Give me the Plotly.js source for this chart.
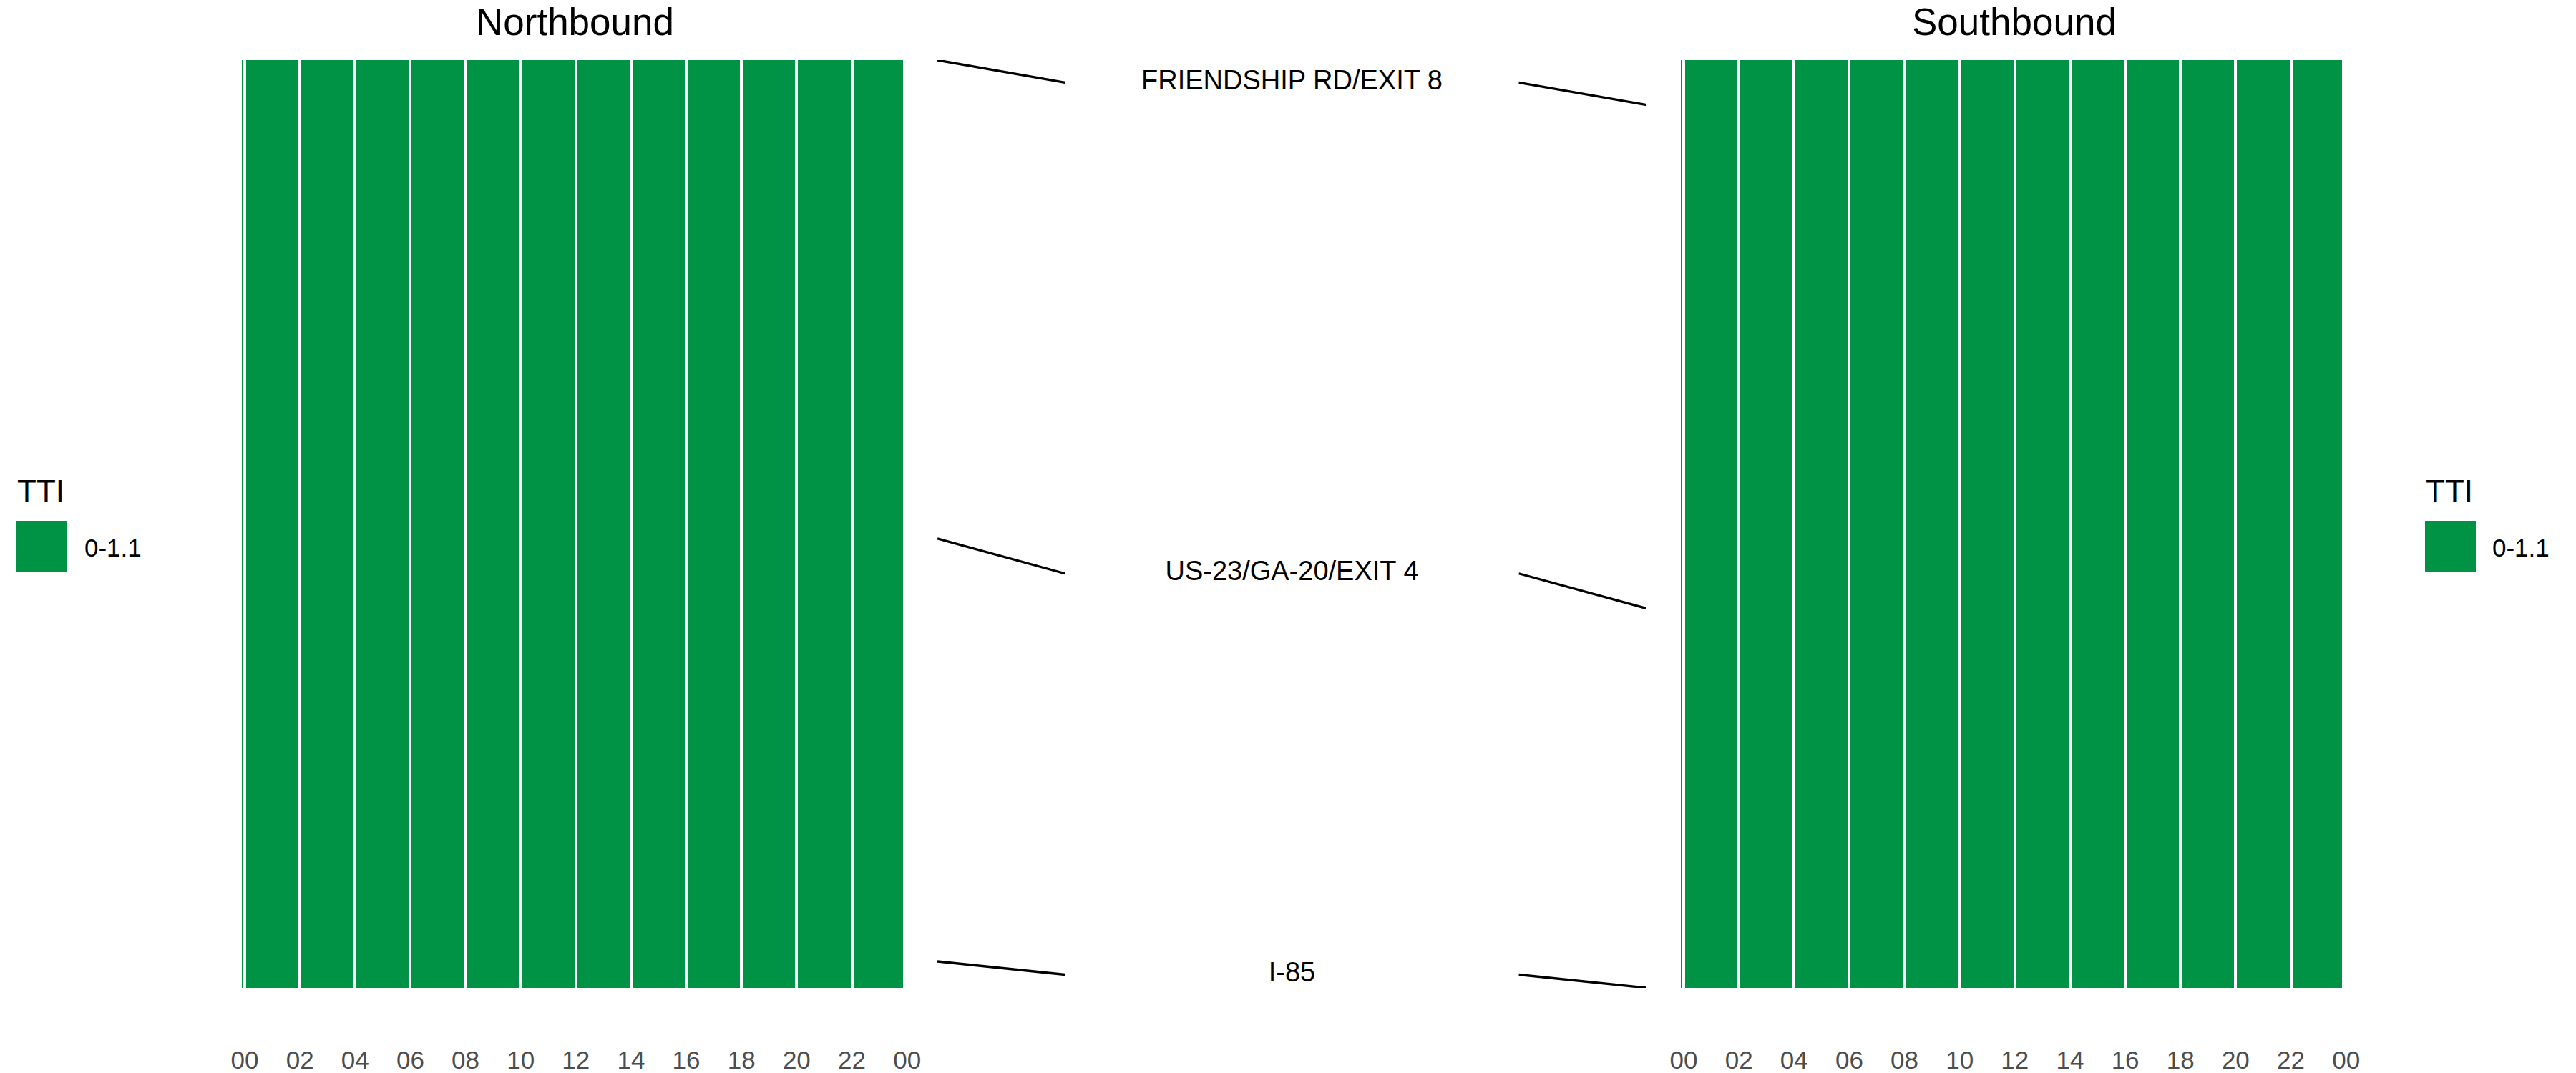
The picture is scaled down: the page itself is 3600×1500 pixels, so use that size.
<!DOCTYPE html>
<html>
<head>
<meta charset="utf-8">
<script src="https://cdn.plot.ly/plotly-3.0.1.min.js"></script>
<style>html,body{margin:0;padding:0;background:#fff;}#chart{width:3600px;height:1500px;}</style>
</head>
<body>
<div id="chart"></div>
<script>
// ---- data ----
const hourEdges = [-0.156, 0, 2, 4, 6, 8, 10, 12, 14, 16, 18, 20, 22, 23.91];
const nbTTI = [1, 1, 1, 1, 1, 1, 1, 1, 1, 1, 1, 1, 1];
const sbTTI = [1, 1, 1, 1, 1, 1, 1, 1, 1, 1, 1, 1, 1];
const segmentRange = [0, 8.9];           // distance along the corridor
const roads = ["I-85", "US-23/GA-20/EXIT 4", "FRIENDSHIP RD/EXIT 8"];
const nbPos = [0.254, 4.31, 8.9];
const sbPos = [0.0, 3.64, 8.47];
const tickVals = [0, 2, 4, 6, 8, 10, 12, 14, 16, 18, 20, 22, 24];
const tickText = ["00", "02", "04", "06", "08", "10", "12", "14", "16", "18", "20", "22", "00"];
const ttiLabels = ["0-1.1"];
const ttiColors = ["#009245"];
const panelTitles = ["Northbound", "Southbound"];

// ---- layout helpers ----
const W = 3600, H = 1500;
const px = v => v / W;
const py = v => 1 - v / H;
const FONT = "Liberation Sans, Arial, sans-serif";
const yDom = [py(1381), py(84)];

const heat = (z, xa, ya) => ({
  type: "heatmap", x: hourEdges, y: segmentRange, z: [z],
  xaxis: xa, yaxis: ya, xgap: 4, ygap: 0,
  colorscale: [[0, ttiColors[0]], [1, ttiColors[0]]], zmin: 0, zmax: 1,
  showscale: false, hoverinfo: "skip"
});

const midPos = roads.map((r, i) => (nbPos[i] + sbPos[i]) / 2);
const segX = [], segY = [];
roads.forEach((r, i) => {
  segX.push(0, 0.18, null, 0.82, 1, null);
  segY.push(nbPos[i], midPos[i], null, midPos[i], sbPos[i], null);
});

const traces = [
  heat(nbTTI, "x", "y"),
  heat(sbTTI, "x3", "y3"),
  { type: "scatter", mode: "lines", x: segX, y: segY, xaxis: "x2", yaxis: "y2",
    line: { color: "#000", width: 3.3 }, hoverinfo: "skip", connectgaps: false },
  { type: "scatter", mode: "text", x: roads.map(() => 0.5), y: midPos, text: roads,
    xaxis: "x2", yaxis: "y2", textposition: "middle center",
    textfont: { family: FONT, size: 38, color: "#000" }, hoverinfo: "skip" }
];

const timeAxis = (dom) => ({
  domain: dom, range: [-0.156, 24.1], tickvals: tickVals, ticktext: tickText,
  ticks: "outside", ticklen: 70, tickcolor: "rgba(0,0,0,0)",
  tickfont: { family: FONT, size: 35, color: "#4D4D4D" },
  showgrid: false, zeroline: false, showline: false, fixedrange: true
});
const distAxis = (anchor) => ({
  domain: yDom, range: segmentRange, anchor: anchor, showticklabels: false,
  ticks: "", showgrid: false, zeroline: false, showline: false
});

const nbDom = [px(335.98), px(1271.5)];
const sbDom = [px(2347), px(3282.5)];

const layout = {
  width: W, height: H, margin: { l: 0, r: 0, t: 0, b: 0 },
  paper_bgcolor: "#fff", plot_bgcolor: "rgba(0,0,0,0)", showlegend: false,
  xaxis: Object.assign(timeAxis(nbDom), { anchor: "y" }),
  yaxis: distAxis("x"),
  xaxis2: { domain: [px(1310), px(2301)], range: [0, 1], anchor: "y2", visible: false },
  yaxis2: Object.assign(distAxis("x2"), { visible: false }),
  xaxis3: Object.assign(timeAxis(sbDom), { anchor: "y3" }),
  yaxis3: distAxis("x3"),
  annotations: [
    { text: panelTitles[0], xref: "paper", yref: "paper", x: (nbDom[0] + nbDom[1]) / 2, y: py(0),
      xanchor: "center", yanchor: "top", borderpad: 0, showarrow: false, font: { family: FONT, size: 53, color: "#000" } },
    { text: panelTitles[1], xref: "paper", yref: "paper", x: (sbDom[0] + sbDom[1]) / 2, y: py(0),
      xanchor: "center", yanchor: "top", borderpad: 0, showarrow: false, font: { family: FONT, size: 53, color: "#000" } },
    // legends
    { text: "TTI", xref: "paper", yref: "paper", x: px(22), y: py(686), xanchor: "left", yanchor: "middle",
      showarrow: false, font: { family: FONT, size: 44, color: "#000" } },
    { text: ttiLabels[0], xref: "paper", yref: "paper", x: px(116), y: py(765), xanchor: "left", yanchor: "middle",
      showarrow: false, font: { family: FONT, size: 35, color: "#000" } },
    { text: "TTI", xref: "paper", yref: "paper", x: px(3388), y: py(686), xanchor: "left", yanchor: "middle",
      showarrow: false, font: { family: FONT, size: 44, color: "#000" } },
    { text: ttiLabels[0], xref: "paper", yref: "paper", x: px(3481), y: py(765), xanchor: "left", yanchor: "middle",
      showarrow: false, font: { family: FONT, size: 35, color: "#000" } }
  ],
  shapes: [
    { type: "rect", xref: "paper", yref: "paper", x0: px(23), x1: px(94), y0: py(729), y1: py(800),
      fillcolor: ttiColors[0], line: { width: 0 } },
    { type: "rect", xref: "paper", yref: "paper", x0: px(3389), x1: px(3460), y0: py(729), y1: py(800),
      fillcolor: ttiColors[0], line: { width: 0 } }
  ]
};

Plotly.newPlot("chart", traces, layout, { staticPlot: true, displayModeBar: false });
</script>
</body>
</html>
